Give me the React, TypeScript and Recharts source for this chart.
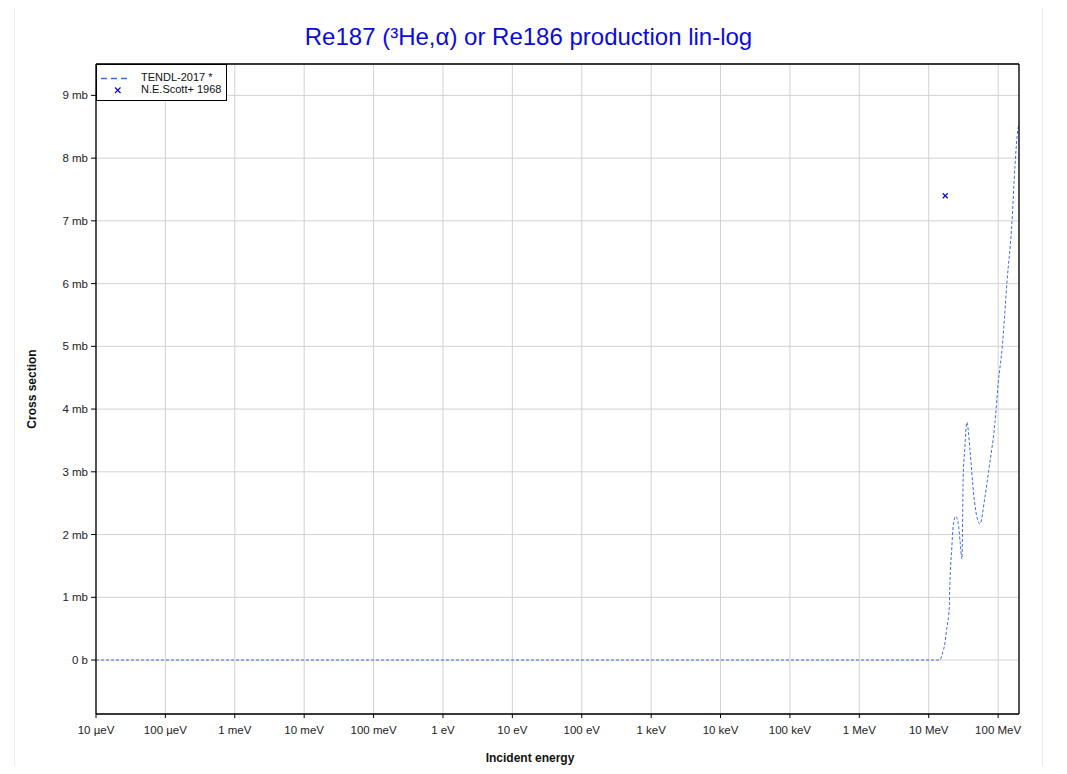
import { CartesianGrid, ComposedChart, Label, Legend, Line, Scatter, XAxis, YAxis } from "recharts"

// TENDL-2017 evaluation, energy in eV, cross section in mb
const tendlEnergy = [
  1e-5, 1e6, 1.3e7, 1.45e7, 1.55e7, 1.71e7, 1.81e7, 1.98e7, 2.02e7, 2.14e7, 2.25e7, 2.44e7, 2.66e7, 2.83e7,
  3.01e7, 3.14e7, 3.3e7, 3.55e7, 3.93e7, 4.48e7, 5.47e7, 6.46e7, 7.45e7, 9.0e7, 1.005e8, 1.15e8, 1.35e8,
  1.57e8, 1.75e8, 1.88e8, 2.0e8,
]
const tendlXs = [
  0, 0, 0, 0, 0.08, 0.27, 0.48, 0.85, 1.22, 1.75, 2.13, 2.29, 2.18, 1.89,
  1.61, 2.92, 3.35, 3.79, 3.35, 2.6, 2.17, 2.6, 3.08, 3.78, 4.42, 5.0, 6.06,
  6.91, 7.87, 8.35, 8.55,
]

// N.E.Scott+ 1968 measurement
const scottEnergy = [1.73e7]
const scottXs = [7.4]

const xTicks = [1e-5, 1e-4, 1e-3, 1e-2, 1e-1, 1, 10, 100, 1e3, 1e4, 1e5, 1e6, 1e7, 1e8]
const xTickLabels = [
  "10 µeV", "100 µeV", "1 meV", "10 meV", "100 meV", "1 eV", "10 eV", "100 eV",
  "1 keV", "10 keV", "100 keV", "1 MeV", "10 MeV", "100 MeV",
]
const yTicks = [0, 1, 2, 3, 4, 5, 6, 7, 8, 9]
const yMinorTicks = [-0.5, 0.5, 1.5, 2.5, 3.5, 4.5, 5.5, 6.5, 7.5, 8.5]
const yAllTicks = [-0.5, 0, 0.5, 1, 1.5, 2, 2.5, 3, 3.5, 4, 4.5, 5, 5.5, 6, 6.5, 7, 7.5, 8, 8.5, 9, 9.5]

const xDomain = [1e-5, 2e8]
const yDomain = [-0.86, 9.5]

const FONT = '"Liberation Sans", Arial, Helvetica, sans-serif'
const LINE_COLOR = "#3f6ce0"
const POINT_COLOR = "#0000cc"

const tendl = tendlEnergy.map((e, i) => ({ e, xs: tendlXs[i] }))
const scott = scottEnergy.map((e, i) => ({ e, xs: scottXs[i] }))

const CrossMark = (props: any) => {
  const { cx, cy } = props
  if (cx == null || cy == null) return <g />
  const r = 2.5
  return (
    <path
      d={`M${cx - r},${cy - r}L${cx + r},${cy + r}M${cx + r},${cy - r}L${cx - r},${cy + r}`}
      stroke={POINT_COLOR}
      strokeWidth={1.1}
      fill="none"
    />
  )
}

const LegendBox = () => (
  <div
    style={{
      position: "relative",
      width: 131,
      height: 37,
      boxSizing: "border-box",
      background: "#fff",
      border: "1px solid #000",
      fontFamily: FONT,
      fontSize: 11,
      color: "#111",
    }}
  >
    <svg width={40} height={35} style={{ position: "absolute", left: 0, top: 0 }}>
      <line x1={4} x2={30} y1={13.5} y2={13.5} stroke={LINE_COLOR} strokeWidth={1.5} strokeDasharray="6 4" />
      <path d="M18,22.5L23.5,28M23.5,22.5L18,28" stroke={POINT_COLOR} strokeWidth={1.1} fill="none" />
    </svg>
    <div style={{ position: "absolute", left: 44, top: 6, lineHeight: "13px", whiteSpace: "nowrap" }}>TENDL-2017 *</div>
    <div style={{ position: "absolute", left: 44, top: 18, lineHeight: "13px", whiteSpace: "nowrap" }}>N.E.Scott+ 1968</div>
  </div>
)

export default function App() {
  return (
    <div style={{ position: "relative", width: 1067, height: 774, margin: -8, overflow: "hidden", background: "#fff", fontFamily: FONT }}>
      <div
        style={{
          position: "absolute",
          left: 14,
          top: 5,
          width: 1029,
          height: 800,
          border: "1px solid #ececec",
          boxSizing: "border-box",
        }}
      />
      <div
        style={{
          position: "absolute",
          left: 14,
          top: 23,
          width: 1029,
          textAlign: "center",
          fontSize: 24,
          lineHeight: "28px",
          color: "#0b0bdc",
        }}
      >
        Re187 (³He,α) or Re186 production lin-log
      </div>
      <ComposedChart
        width={1067}
        height={774}
        margin={{ top: 64, right: 48, left: 20, bottom: 10 }}
        style={{ position: "absolute", left: 0, top: 0 }}
      >
        <CartesianGrid xAxisId="top" yAxisId="minL" vertical={false} stroke="#f0f0f0" strokeWidth={1} />
        <CartesianGrid xAxisId="x" yAxisId="y" stroke="#d2d2d2" strokeWidth={1} />
        <XAxis
          xAxisId="x"
          dataKey="e"
          type="number"
          scale="log"
          domain={xDomain}
          allowDataOverflow
          ticks={xTicks}
          interval={0}
          height={50}
          tickSize={4}
          tickMargin={8}
          tickFormatter={(v: number) => xTickLabels[xTicks.indexOf(v)] ?? ""}
          tick={{ fontSize: 11.5, fill: "#222", fontFamily: FONT }}
          axisLine={{ stroke: "#000", strokeWidth: 1.3 }}
          tickLine={{ stroke: "#000" }}
        >
          <Label
            value="Incident energy"
            position="insideBottom"
            offset={2}
            dx={-27.5}
            style={{ fontSize: 12, fontWeight: "bold", fill: "#111", fontFamily: FONT }}
          />
        </XAxis>
        <XAxis
          xAxisId="in"
          dataKey="e"
          type="number"
          scale="log"
          domain={xDomain}
          allowDataOverflow
          ticks={xTicks}
          interval={0}
          mirror
          tick={false}
          tickSize={4}
          axisLine={false}
          tickLine={{ stroke: "#000" }}
        />
        <XAxis
          xAxisId="top"
          orientation="top"
          dataKey="e"
          type="number"
          scale="log"
          domain={xDomain}
          allowDataOverflow
          ticks={xTicks}
          interval={0}
          mirror
          tick={false}
          tickSize={3}
          axisLine={{ stroke: "#000", strokeWidth: 1.3 }}
          tickLine={{ stroke: "#666" }}
        />
        <YAxis
          yAxisId="y"
          type="number"
          domain={yDomain}
          allowDataOverflow
          ticks={yTicks}
          interval={0}
          width={76}
          tickSize={5}
          tickMargin={3}
          tickFormatter={(v: number) => (v === 0 ? "0 b" : `${v} mb`)}
          tick={{ fontSize: 11.5, fill: "#222", fontFamily: FONT }}
          axisLine={{ stroke: "#000", strokeWidth: 1.3 }}
          tickLine={{ stroke: "#000" }}
        >
          <Label
            value="Cross section"
            position="insideLeft"
            angle={-90}
            offset={12}
            style={{ fontSize: 12, fontWeight: "bold", fill: "#111", textAnchor: "middle", fontFamily: FONT }}
          />
        </YAxis>
        <YAxis
          yAxisId="minL"
          type="number"
          domain={yDomain}
          allowDataOverflow
          ticks={yMinorTicks}
          interval={0}
          mirror
          tick={false}
          tickSize={3}
          axisLine={false}
          tickLine={{ stroke: "#000" }}
        />
        <YAxis
          yAxisId="right"
          orientation="right"
          type="number"
          domain={yDomain}
          allowDataOverflow
          ticks={yAllTicks}
          interval={0}
          mirror
          tick={false}
          tickSize={3}
          axisLine={{ stroke: "#000", strokeWidth: 1.3 }}
          tickLine={{ stroke: "#000" }}
        />
        <Legend
          layout="horizontal"
          verticalAlign="middle"
          align="center"
          content={() => <LegendBox />}
          wrapperStyle={{ left: 96, top: 64, width: 131, height: 37 }}
        />
        <Line
          xAxisId="x"
          yAxisId="y"
          data={tendl}
          dataKey="xs"
          name="TENDL-2017 *"
          type="monotone"
          stroke={LINE_COLOR}
          strokeWidth={1}
          strokeDasharray="3 2"
          dot={false}
          activeDot={false}
          isAnimationActive={false}
        />
        <Scatter
          xAxisId="x"
          yAxisId="y"
          data={scott}
          dataKey="xs"
          name="N.E.Scott+ 1968"
          shape={CrossMark}
          isAnimationActive={false}
        />
      </ComposedChart>
    </div>
  )
}
